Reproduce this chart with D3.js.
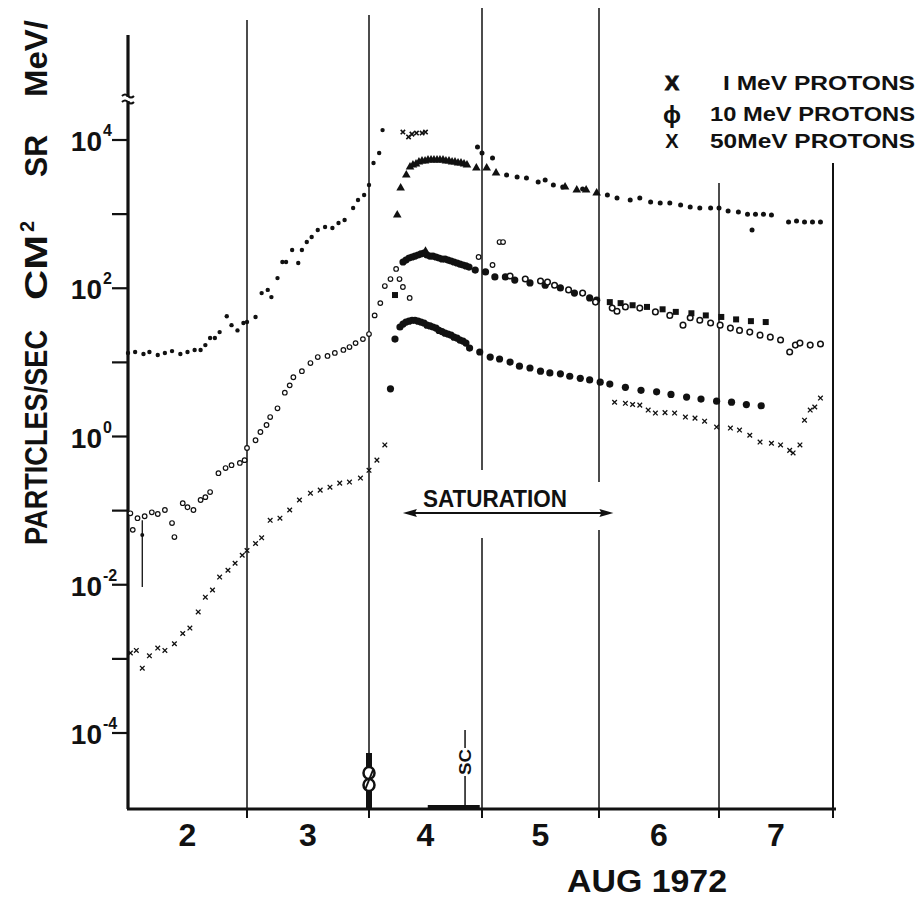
<!DOCTYPE html>
<html><head><meta charset="utf-8">
<script src="https://cdn.jsdelivr.net/npm/d3@7"></script>
<style>
body{margin:0;background:#fff}
svg{display:block}
text{font-family:"Liberation Sans",Arial,sans-serif;font-weight:bold;fill:#111}
</style>
</head><body>
<svg id="c" width="922" height="899"></svg>
<script>
// ---------- DATA (day of Aug 1972, particles/sec cm^2 sr MeV) ----------
const dayBounds = [2,3,4,5,6,7,8];
const dayNames = ["2","3","4","5","6","7"];
const decades = [-4,-3,-2,-1,0,1,2,3,4];
const labelledExp = ["4","2","0","-2","-4"];
const legendNames = ["1 MeV  PROTONS","10 MeV  PROTONS","50MeV  PROTONS"];
const saturationSpan = [4.30, 6.12];
const scDay = 4.85;

// 1 MeV protons
const p1Pre = [[2.00,13.4],[2.06,13.8],[2.13,13.0],[2.18,13.8],[2.25,12.6],[2.31,13.4],[2.37,14.2],[2.44,13.0],[2.50,13.8],[2.56,14.7],[2.61,14.7],[2.65,17.1],[2.69,21.3],[2.73,21.3],[2.77,25.6],[2.83,42],[2.87,31.8],[2.92,27],[2.97,34],[3.00,35],[3.07,41],[3.12,86],[3.17,95],[3.20,76],[3.25,137],[3.29,226],[3.32,226],[3.37,328],[3.42,219],[3.45,328],[3.49,420],[3.53,491],[3.58,610],[3.64,670],[3.70,649],[3.75,758],[3.80,832],[3.87,1210],[3.91,1550],[3.96,1810],[4.00,2470],[4.04,4900],[4.09,6680],[4.12,13600]];
const p1High = [[4.30,12800],[4.35,11000],[4.38,12000],[4.42,12400],[4.47,12400],[4.50,12800]];
const p1Tri = [[4.25,972],[4.28,2250],[4.33,3380],[4.363,4330],[4.389,4600],[4.416,4740],[4.442,5050],[4.469,5200],[4.496,5200],[4.522,5370],[4.549,5370],[4.575,5370],[4.602,5370],[4.628,5370],[4.655,5370],[4.681,5200],[4.708,5200],[4.735,5050],[4.761,5050],[4.788,4900],[4.814,4900],[4.841,4740],[4.867,4600],[4.95,4190],[5.04,4190],[5.12,3590],[5.71,2320],[5.81,2120],[5.89,2120],[5.98,1930]];
const p1Post = [[4.96,8050],[5.00,6680],[5.09,5710],[5.21,3380],[5.30,3170],[5.38,3070],[5.48,2710],[5.54,2880],[5.61,2470],[5.69,2320],[5.86,2180],[6.07,1810],[6.15,1650],[6.26,1550],[6.34,1650],[6.43,1460],[6.51,1410],[6.59,1410],[6.68,1330],[6.76,1250],[6.84,1210],[6.93,1210],[7.00,1210],[7.08,1100],[7.17,1070],[7.25,1000],[7.32,1000],[7.39,1000],[7.46,972],[7.29,610],[7.61,782],[7.68,807],[7.75,782],[7.82,782],[7.89,782]];

// 10 MeV protons
const p10Pre = [[2.02,0.092],[2.04,0.055],[2.08,0.079],[2.14,0.084],[2.20,0.095],[2.25,0.090],[2.31,0.102],[2.37,0.068],[2.39,0.044],[2.46,0.126],[2.50,0.111],[2.55,0.102],[2.61,0.139],[2.65,0.152],[2.69,0.178],[2.76,0.32],[2.82,0.375],[2.87,0.41],[2.94,0.44],[2.98,0.48],[3.00,0.70],[3.07,0.89],[3.11,1.15],[3.16,1.43],[3.19,1.83],[3.25,2.4],[3.31,3.9],[3.35,4.9],[3.38,6.3],[3.45,7.6],[3.52,9.8],[3.58,11.8],[3.66,12.2],[3.72,13.4],[3.79,14.7],[3.84,16.1],[3.89,18.2],[3.95,20.6],[4.00,24.1],[4.05,43],[4.10,63],[4.14,107],[4.19,133],[4.24,182],[4.27,133],[4.30,104],[4.36,74],[4.97,264],[5.09,206],[5.15,420],[5.18,420]];
const p10Peak = [[4.301,226],[4.327,240],[4.354,256],[4.381,264],[4.407,272],[4.434,281],[4.460,290],[4.487,299],[4.513,281],[4.540,272],[4.566,272],[4.593,264],[4.619,256],[4.646,248],[4.673,248],[4.699,240],[4.726,233],[4.752,226],[4.779,219],[4.805,212],[4.832,206],[4.858,200],[4.885,193],[4.94,176],[5.03,166],[5.11,142],[5.20,142],[5.28,129],[5.41,118],[5.54,110],[5.67,101],[5.79,86],[5.92,74],[5.98,69]];
const p10PeakTri = [[4.50,308]];
const p10Sq = [[4.23,81],[6.09,65],[6.18,63],[6.28,59],[6.40,56],[6.53,52],[6.64,48],[6.77,46],[6.89,43],[7.02,41],[7.15,38],[7.28,36],[7.41,35]];
const p10Open = [[5.24,146],[5.37,133],[5.50,125],[5.56,121],[5.62,110],[5.74,95],[5.86,86],[5.97,65],[6.11,54],[6.15,49],[6.22,56],[6.34,54],[6.47,48],[6.59,43],[6.70,31.8],[6.76,40],[6.84,37],[6.93,34],[7.01,31.8],[7.10,29],[7.18,27],[7.27,25.6],[7.36,23.3],[7.45,21.9],[7.54,20],[7.62,13.8],[7.67,17.1],[7.71,18.2],[7.80,17.1],[7.89,17.7]];
const p10ErrBar = [[2.12,0.0093,0.074,0.047]];

// 50 MeV protons
const p50Pre = [[2.02,0.0012],[2.07,0.0013],[2.12,0.00075],[2.18,0.0011],[2.25,0.0014],[2.31,0.0013],[2.39,0.0016],[2.46,0.0022],[2.52,0.0026],[2.59,0.0043],[2.65,0.0068],[2.71,0.0085],[2.77,0.0127],[2.84,0.0157],[2.90,0.0195],[2.96,0.025],[3.00,0.029],[3.07,0.036],[3.12,0.043],[3.19,0.074],[3.27,0.079],[3.35,0.102],[3.43,0.139],[3.52,0.172],[3.60,0.189],[3.68,0.207],[3.76,0.235],[3.84,0.243],[3.93,0.275],[4.00,0.35],[4.07,0.48],[4.14,0.77]];
const p50Dots = [[4.19,4.4],[4.23,20.6],[4.274,30],[4.301,32.9],[4.327,35],[4.354,36],[4.381,37],[4.407,37],[4.434,36],[4.460,35],[4.487,34],[4.513,31.8],[4.540,31],[4.566,30],[4.593,29],[4.619,27],[4.646,26],[4.673,24.8],[4.699,24.1],[4.726,23.3],[4.752,21.9],[4.779,21.3],[4.805,20],[4.832,19.4],[4.858,18.2],[4.89,15.6],[4.98,13.8],[5.07,11.8],[5.15,11.1],[5.24,10.1],[5.32,8.9],[5.41,8.4],[5.50,7.6],[5.58,7.2],[5.67,7.0],[5.75,6.5],[5.84,6.1],[5.92,5.8],[6.01,5.4],[6.09,5.1],[6.22,4.6],[6.35,4.2],[6.48,4.0],[6.60,3.7],[6.73,3.4],[6.85,3.2],[6.98,3.0],[7.11,2.9],[7.24,2.7],[7.37,2.6]];
const p50Post = [[6.13,2.9],[6.22,2.8],[6.28,2.7],[6.34,2.65],[6.41,2.27],[6.47,2.07],[6.55,2.1],[6.63,2.07],[6.72,1.83],[6.80,1.77],[6.88,1.61],[6.98,1.34],[7.10,1.30],[7.18,1.22],[7.27,1.04],[7.36,0.84],[7.46,0.81],[7.54,0.77],[7.62,0.65],[7.65,0.60],[7.71,0.77],[7.75,1.66],[7.80,2.27],[7.84,2.5],[7.89,3.3]];

// ---------- SCALES ----------
const x = d3.scaleLinear().domain(dayBounds).range([128,247,369,482,599,719,833]);
const y = d3.scaleLog().domain([1e-4,1e4]).range([733,140]);
const axisY = 809, axisTop = 35;
const ink = "#111";
const svg = d3.select("#c");

// ---------- GRID / FRAME ----------
const gridLines = [{d:3,top:20},{d:4,top:15},{d:5,top:8,gap:[470,538]},{d:6,top:8,gap:[482,530]},{d:7,top:183},{d:8,top:163}];
gridLines.forEach(g=>{
  const segs = g.gap ? [[g.top,g.gap[0]],[g.gap[1],axisY]] : [[g.top,axisY]];
  segs.forEach(s=>svg.append("line").attr("x1",x(g.d)).attr("x2",x(g.d)).attr("y1",s[0]).attr("y2",s[1])
    .attr("stroke",ink).attr("stroke-width",g.d===8?2:1.5));
});
// left axis
svg.append("line").attr("x1",x(2)).attr("x2",x(2)).attr("y1",axisTop).attr("y2",axisY).attr("stroke",ink).attr("stroke-width",3.2);
// axis break
svg.append("rect").attr("x",x(2)-3).attr("y",97).attr("width",6).attr("height",4).attr("fill","#fff");
[96,102].forEach(yy=>svg.append("path").attr("d",`M${x(2)-6},${yy} q3,-3 6,0 t6,0`).attr("fill","none").attr("stroke",ink).attr("stroke-width",2));
// bottom axis
svg.append("line").attr("x1",x(2)-1).attr("x2",x(8)+3).attr("y1",axisY).attr("y2",axisY).attr("stroke",ink).attr("stroke-width",3.2);
dayBounds.slice(1).forEach(d=>svg.append("line").attr("x1",x(d)).attr("x2",x(d)).attr("y1",axisY).attr("y2",axisY+9).attr("stroke",ink).attr("stroke-width",2));
// y ticks
decades.forEach(k=>svg.append("line").attr("x1",112).attr("x2",x(2)).attr("y1",y(Math.pow(10,k))).attr("y2",y(Math.pow(10,k))).attr("stroke",ink).attr("stroke-width",2.2));
labelledExp.forEach(e=>{
  const yy = y(Math.pow(10,+e));
  svg.append("text").attr("x",102).attr("y",yy+11).attr("text-anchor","end").attr("font-size",28).text("10");
  svg.append("text").attr("x",103).attr("y",yy-4).attr("font-size",16).text(e);
});
// day labels
dayNames.forEach((t,i)=>svg.append("text").attr("x",x(dayBounds[i]+0.5)).attr("y",846).attr("text-anchor","middle").attr("font-size",32).text(t));
svg.append("text").attr("x",567).attr("y",892).attr("font-size",31).attr("textLength",160).attr("lengthAdjust","spacingAndGlyphs").text("AUG  1972");

// y title (rotated pieces)
const titlePieces = [{t:"PARTICLES/SEC",a:545,b:330},{t:"CM",a:300,b:235},{t:"SR",a:177,b:135},{t:"MeV/",a:97,b:20}];
titlePieces.forEach(p=>svg.append("text").attr("transform",`translate(47,${p.a}) rotate(-90)`).attr("font-size",31)
  .attr("textLength",p.a-p.b).attr("lengthAdjust","spacingAndGlyphs").text(p.t));
svg.append("text").attr("transform","translate(34,232) rotate(-90)").attr("font-size",20).text("2");

// legend
const legendY = [90,121,148];
const legendX = [723,710,710];
legendNames.forEach((t,i)=>svg.append("text").attr("x",legendX[i]).attr("y",legendY[i]).attr("font-size",20)
  .attr("textLength",915-legendX[i]).attr("lengthAdjust","spacingAndGlyphs").text(t.replace(/^1 /,"I ")));
svg.append("text").attr("x",672).attr("y",90).attr("text-anchor","middle").attr("font-size",21).attr("font-weight",900).attr("stroke",ink).attr("stroke-width",1).text("X");
svg.append("text").attr("x",672).attr("y",123).attr("text-anchor","middle").attr("font-size",24).text("ϕ");
svg.append("text").attr("x",672).attr("y",148).attr("text-anchor","middle").attr("font-size",20).attr("font-weight","normal").text("X");

// saturation
const sy = 513;
svg.append("line").attr("x1",x(saturationSpan[0])+8).attr("x2",x(saturationSpan[1])-8).attr("y1",sy).attr("y2",sy).attr("stroke",ink).attr("stroke-width",2.2);
const xa=x(saturationSpan[0]), xb=x(saturationSpan[1]);
svg.append("path").attr("d",`M${xa},${sy} L${xa+14},${sy-4} L${xa+12},${sy} L${xa+14},${sy+4} Z`).attr("fill",ink);
svg.append("path").attr("d",`M${xb},${sy} L${xb-14},${sy-4} L${xb-12},${sy} L${xb-14},${sy+4} Z`).attr("fill",ink);
svg.append("text").attr("x",423).attr("y",507).attr("font-size",23).attr("textLength",144).attr("lengthAdjust","spacingAndGlyphs").text("SATURATION");

// SC marker
const xs = x(scDay);
svg.append("line").attr("x1",xs).attr("x2",xs).attr("y1",730).attr("y2",748).attr("stroke",ink).attr("stroke-width",1.5);
svg.append("line").attr("x1",xs).attr("x2",xs).attr("y1",776).attr("y2",axisY).attr("stroke",ink).attr("stroke-width",1.5);
svg.append("text").attr("transform",`translate(${xs+6},${775}) rotate(-90)`).attr("font-size",17).attr("font-weight","normal").attr("textLength",26).attr("lengthAdjust","spacingAndGlyphs").text("SC");
// bottom heavy bar and flare marker on day-4 line
svg.append("rect").attr("x",x(4.52)).attr("y",axisY-4).attr("width",x(4.98)-x(4.52)).attr("height",4).attr("fill",ink);
svg.append("rect").attr("x",x(4)-3).attr("y",753).attr("width",6).attr("height",axisY-753).attr("fill",ink);
[773,785].forEach(cy=>svg.append("ellipse").attr("cx",x(4)).attr("cy",cy).attr("rx",5.5).attr("ry",6).attr("fill","#fff").attr("stroke",ink).attr("stroke-width",2.5));
svg.append("line").attr("x1",x(4)-4).attr("x2",x(4)+4).attr("y1",790).attr("y2",770).attr("stroke",ink).attr("stroke-width",2);

// ---------- MARKS ----------
const g = svg.append("g");
function circles(data, r, fill, sw){
  g.selectAll(null).data(data).join("circle").attr("cx",d=>x(d[0])).attr("cy",d=>y(d[1])).attr("r",r)
    .attr("fill",fill?ink:"#fff").attr("stroke",ink).attr("stroke-width",sw||0);
}
function symbols(data, type, size){
  g.selectAll(null).data(data).join("path").attr("transform",d=>`translate(${x(d[0])},${y(d[1])})`)
    .attr("d",d3.symbol().type(type).size(size)).attr("fill",ink);
}
function crosses(data, s, sw){
  g.selectAll(null).data(data).join("path").attr("transform",d=>`translate(${x(d[0])},${y(d[1])})`)
    .attr("d",`M${-s},${-s}L${s},${s}M${-s},${s}L${s},${-s}`).attr("stroke",ink).attr("stroke-width",sw).attr("fill","none");
}
// error bar
p10ErrBar.forEach(e=>{
  g.append("line").attr("x1",x(e[0])).attr("x2",x(e[0])).attr("y1",y(e[1])).attr("y2",y(e[2])).attr("stroke",ink).attr("stroke-width",1.3);
  g.append("circle").attr("cx",x(e[0])).attr("cy",y(e[3])).attr("r",2).attr("fill",ink);
});
// 1 MeV
circles(p1Pre, 2.2, true);
crosses(p1High, 2.2, 1.6);
symbols(p1Tri, d3.symbolTriangle, 32);
circles(p1Post, 2.5, true);
// 10 MeV
circles(p10Pre, 2.3, false, 1.2);
circles(p10Peak, 3.6, true);
symbols(p10PeakTri, d3.symbolTriangle, 45);
circles(p10Open, 2.8, false, 1.5);
symbols(p10Sq, d3.symbolSquare, 36);
// 50 MeV
crosses(p50Pre, 2.3, 1.3);
circles(p50Dots, 3.6, true);
crosses(p50Post, 2.3, 1.3);
</script>
</body></html>
